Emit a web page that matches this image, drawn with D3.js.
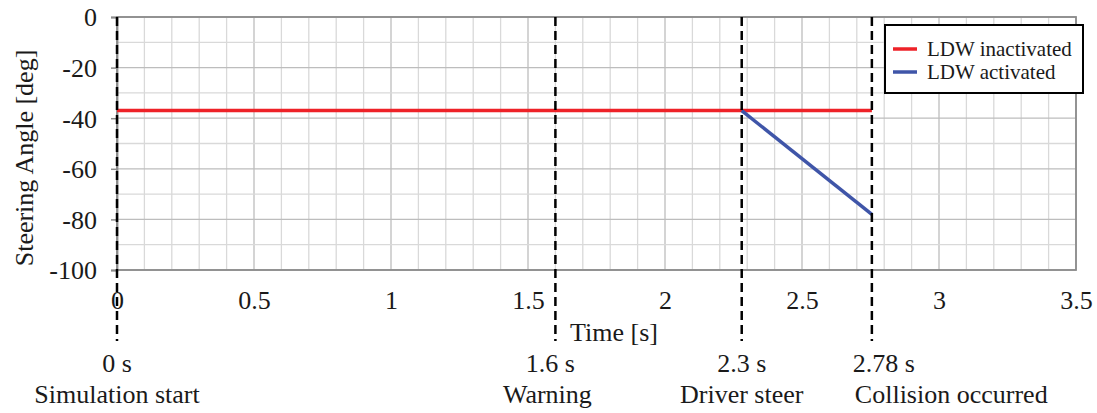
<!DOCTYPE html>
<html><head><meta charset="utf-8">
<script src="https://cdn.jsdelivr.net/npm/d3@7"></script>
<style>body{margin:0;background:#fff}svg{display:block}text{font-family:"Liberation Serif","Times New Roman",serif;fill:#1a1a1a}</style>
</head><body><svg id="c" width="1097" height="413"></svg>
<script>
const xTicks = [0, 0.5, 1, 1.5, 2, 2.5, 3, 3.5];
const xTickLabels = ["0", "0.5", "1", "1.5", "2", "2.5", "3", "3.5"];
const yTicks = [0, -20, -40, -60, -80, -100];
const yTickLabels = ["0", "-20", "-40", "-60", "-80", "-100"];
const inactivated = [[0, -37], [2.755, -37]];
const activated = [[2.28, -37], [2.755, -78]];
const eventTimes = [0, 1.6, 2.28, 2.755];
const eventTimeLabels = ["0 s", "1.6 s", "2.3 s", "2.78 s"];
const eventNames = ["Simulation start", "Warning", "Driver steer", "Collision occurred"];
const seriesNames = ["LDW inactivated", "LDW activated"];
const seriesColors = ["#ee2228", "#3f55a8"];

const FS = "26px";
const svg = d3.select("#c");
const x = d3.scaleLinear().domain([0, 3.5]).range([117, 1076]);
const y = d3.scaleLinear().domain([-100, 0]).range([270, 17]);

// grid
const g = svg.append("g");
g.selectAll(".vx").data(d3.range(0, 36).map(i => i / 10)).join("line")
  .attr("x1", d => x(d)).attr("x2", d => x(d)).attr("y1", y(0)).attr("y2", y(-100))
  .attr("stroke", (d, i) => i % 5 === 0 ? "#bdbdbd" : "#d9d9d9").attr("stroke-width", 1.3);
g.selectAll(".hy").data(d3.range(0, 11).map(i => -i * 10)).join("line")
  .attr("y1", d => y(d)).attr("y2", d => y(d)).attr("x1", x(0)).attr("x2", x(3.5))
  .attr("stroke", (d, i) => i % 2 === 0 ? "#bdbdbd" : "#d9d9d9").attr("stroke-width", 1.3);
// frame
svg.append("rect").attr("x", x(0)).attr("y", y(0)).attr("width", x(3.5) - x(0)).attr("height", y(-100) - y(0))
  .attr("fill", "none").attr("stroke", "#8c8c8c").attr("stroke-width", 1.8);

// y axis
const yAxis = d3.axisLeft(y).tickValues(yTicks).tickSize(6).tickPadding(14).tickFormat((d, i) => yTickLabels[i]);
const ya = svg.append("g").attr("transform", `translate(${x(0)},0)`).call(yAxis);
ya.select(".domain").attr("stroke", "#8c8c8c").attr("stroke-width", 1.8);
ya.selectAll(".tick line").attr("stroke", "#8c8c8c").attr("stroke-width", 1.5);
ya.selectAll(".tick text").style("font-size", FS).attr("fill", "#1a1a1a").attr("dy", "0.34em");

// x axis
const xAxis = d3.axisBottom(x).tickValues(xTicks).tickSize(0).tickPadding(21).tickFormat((d, i) => xTickLabels[i]);
const xa = svg.append("g").attr("transform", `translate(0,${y(-100)})`).call(xAxis);
xa.select(".domain").remove();
xa.selectAll(".tick text").style("font-size", FS).attr("fill", "#1a1a1a");

// axis titles
svg.append("text").attr("x", 614).attr("y", 341).attr("text-anchor", "middle").style("font-size", FS).text("Time [s]");
svg.append("text").attr("transform", "translate(33,158) rotate(-90)").attr("text-anchor", "middle").style("font-size", FS).text("Steering Angle [deg]");

// series
const line = d3.line().x(d => x(d[0])).y(d => y(d[1]));
svg.append("path").datum(inactivated).attr("d", line).attr("fill", "none").attr("stroke", seriesColors[0]).attr("stroke-width", 3.5);
svg.append("path").datum(activated).attr("d", line).attr("fill", "none").attr("stroke", seriesColors[1]).attr("stroke-width", 3.5);

// event dashed lines
svg.selectAll(".ev").data(eventTimes).join("line")
  .attr("x1", d => x(d)).attr("x2", d => x(d)).attr("y1", y(0)).attr("y2", 341)
  .attr("stroke", "#000").attr("stroke-width", 2.5).attr("stroke-dasharray", "9,5");

// event labels
const labelDx = [0, -5, 0, 12];
svg.selectAll(".evt").data(eventTimes).join("text")
  .attr("x", (d, i) => x(d) + labelDx[i]).attr("y", 372).attr("text-anchor", "middle")
  .style("font-size", FS).text((d, i) => eventTimeLabels[i]);
const nameAnchor = ["middle", "middle", "middle", "start"];
const nameDx = [0, -8, 0, -17];
svg.selectAll(".evn").data(eventTimes).join("text")
  .attr("x", (d, i) => x(d) + nameDx[i]).attr("y", 403).attr("text-anchor", (d, i) => nameAnchor[i])
  .style("font-size", FS).text((d, i) => eventNames[i]);

// legend
const lg = svg.append("g");
lg.append("rect").attr("x", 885).attr("y", 25).attr("width", 198).attr("height", 68)
  .attr("fill", "#fff").attr("stroke", "#000").attr("stroke-width", 2);
seriesNames.forEach((n, i) => {
  const yy = 49 + i * 23;
  lg.append("line").attr("x1", 893).attr("x2", 917).attr("y1", yy).attr("y2", yy)
    .attr("stroke", seriesColors[i]).attr("stroke-width", 3.5);
  lg.append("text").attr("x", 927).attr("y", yy + 7).style("font-size", "21px").text(n);
});
</script></body></html>
